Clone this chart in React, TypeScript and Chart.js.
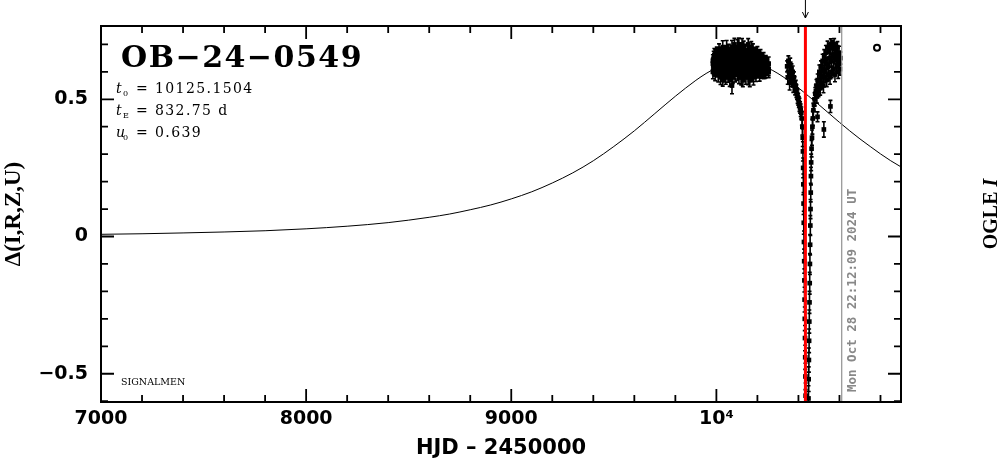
import React, { useEffect, useRef } from 'react';
import { Chart, registerables } from 'chart.js';

Chart.register(...registerables);

// ---------------- data ----------------
const X_MIN = 7000;
const X_MAX = 10900;
const Y_MIN = -0.603;
const Y_MAX = 0.767;

const X_TICKS = [7000, 7200, 7400, 7600, 7800, 8000, 8200, 8400, 8600, 8800, 9000, 9200, 9400, 9600, 9800, 10000, 10200, 10400, 10600, 10800];
const X_TICK_LABELS = ['7000', '', '', '', '', '8000', '', '', '', '', '9000', '', '', '', '', '10⁴', '', '', '', ''];
const Y_TICKS = [-0.6, -0.5, -0.4, -0.3, -0.2, -0.1, 0, 0.1, 0.2, 0.3, 0.4, 0.5, 0.6, 0.7];
const Y_TICK_LABELS = ['', '−0.5', '', '', '', '', '0', '', '', '', '', '0.5', '', ''];

const X_TITLE = 'HJD – 2450000';
const Y_TITLE = 'Δ(I,R,Z,U)';
const EVENT_NAME = 'OB−24−0549';
const PARAM_SYMBOLS = ['t', 't', 'u'];
const PARAM_SUBS = ['0', 'E', '0'];
const PARAM_VALUES = ['10125.1504', '832.75 d', '0.639'];
const CREDIT = 'SIGNALMEN';
const NOW_LABEL = 'Mon Oct 28 22:12:09 2024 UT';
const RIGHT_LABEL = 'OGLE ';
const RIGHT_LABEL_ITALIC = 'I';

const RED_T = 10434;   // marked epoch (red line + arrow)
const NOW_T = 10611;   // current date (gray line)

// model curve
const MODEL_T = [7000, 7200, 7400, 7600, 7800, 8000, 8200, 8400, 8600, 8700, 8800, 8900, 9000, 9100, 9200, 9300, 9400, 9500, 9600, 9700, 9800, 9900, 9950, 10000, 10050, 10125, 10200, 10250, 10300, 10350, 10400, 10450, 10500, 10550, 10600, 10650, 10700, 10750, 10800, 10850, 10900];
const MODEL_V = [0.008, 0.010, 0.013, 0.0165, 0.021, 0.028, 0.0375, 0.0506, 0.070, 0.082, 0.0975, 0.115, 0.137, 0.163, 0.195, 0.232, 0.276, 0.328, 0.385, 0.448, 0.511, 0.569, 0.594, 0.614, 0.627, 0.635, 0.627, 0.614, 0.594, 0.569, 0.5415, 0.511, 0.480, 0.448, 0.416, 0.385, 0.3555, 0.328, 0.301, 0.276, 0.2536];

// main season cluster
const OBS1_T = [
  9983, 9987, 9990, 9994, 9998, 10002, 10005, 10009, 10013, 10017,
  10020, 10024, 10028, 10031, 10035, 10039, 10043, 10046, 10050, 10054,
  10058, 10061, 10065, 10069, 10073, 10076, 10080, 10084, 10088, 10091,
  10095, 10099, 10103, 10106, 10110, 10114, 10118, 10121, 10125, 10129,
  10133, 10136, 10140, 10144, 10148, 10151, 10155, 10159, 10163, 10166,
  10170, 10174, 10178, 10181, 10185, 10189, 10193, 10196, 10200, 10204,
  10208, 10211, 10215, 10219, 10223, 10226, 10230, 10236, 10241, 10248, 10255];
const OBS1_VA = [
  0.63, 0.65, 0.62, 0.66, 0.64, 0.67, 0.63, 0.66, 0.68, 0.64,
  0.67, 0.62, 0.66, 0.69, 0.64, 0.67, 0.63, 0.66, 0.69, 0.65,
  0.63, 0.68, 0.66, 0.62, 0.67, 0.69, 0.64, 0.67, 0.70, 0.65,
  0.67, 0.63, 0.69, 0.66, 0.70, 0.64, 0.68, 0.65, 0.70, 0.67,
  0.69, 0.64, 0.68, 0.66, 0.63, 0.67, 0.70, 0.65, 0.67, 0.63,
  0.69, 0.66, 0.68, 0.64, 0.67, 0.65, 0.66, 0.62, 0.67, 0.64,
  0.66, 0.63, 0.66, 0.64, 0.65, 0.62, 0.65, 0.63, 0.64, 0.61, 0.63];
const OBS1_EA = [
  0.020, 0.025, 0.018, 0.022, 0.030, 0.020, 0.024, 0.018, 0.022, 0.026,
  0.020, 0.028, 0.019, 0.023, 0.025, 0.018, 0.027, 0.021, 0.024, 0.019,
  0.026, 0.020, 0.023, 0.029, 0.018, 0.024, 0.021, 0.026, 0.022, 0.019,
  0.025, 0.020, 0.027, 0.018, 0.023, 0.026, 0.019, 0.024, 0.021, 0.025,
  0.022, 0.028, 0.020, 0.024, 0.019, 0.026, 0.021, 0.023, 0.018, 0.027,
  0.020, 0.024, 0.022, 0.026, 0.019, 0.023, 0.025, 0.020, 0.022, 0.027,
  0.019, 0.024, 0.021, 0.025, 0.018, 0.023, 0.020, 0.026, 0.019, 0.022, 0.024];
const OBS1_VB = [
  0.60, 0.61, 0.64, 0.59, 0.62, 0.60, 0.63, 0.59, 0.61, 0.64,
  0.58, 0.62, 0.60, 0.57, 0.63, 0.59, 0.61, 0.58, 0.62, 0.60,
  0.59, 0.63, 0.57, 0.61, 0.59, 0.55, 0.58, 0.64, 0.60, 0.59,
  0.61, 0.62, 0.59, 0.61, 0.58, 0.63, 0.60, 0.58, 0.62, 0.57,
  0.61, 0.59, 0.63, 0.58, 0.60, 0.62, 0.58, 0.61, 0.57, 0.60,
  0.63, 0.59, 0.61, 0.58, 0.62, 0.60, 0.59, 0.63, 0.60, 0.61,
  0.60, 0.59, 0.62, 0.60, 0.61, 0.60, 0.62, 0.60, 0.61, 0.62, 0.61];
const OBS1_EB = [
  0.025, 0.020, 0.028, 0.022, 0.026, 0.019, 0.024, 0.027, 0.021, 0.023,
  0.026, 0.020, 0.024, 0.022, 0.019, 0.027, 0.021, 0.025, 0.020, 0.024,
  0.028, 0.019, 0.023, 0.026, 0.021, 0.030, 0.022, 0.018, 0.025, 0.027,
  0.020, 0.024, 0.021, 0.026, 0.023, 0.019, 0.025, 0.028, 0.020, 0.024,
  0.022, 0.026, 0.019, 0.025, 0.021, 0.023, 0.027, 0.020, 0.024, 0.022,
  0.019, 0.026, 0.021, 0.028, 0.020, 0.023, 0.025, 0.019, 0.022, 0.026,
  0.021, 0.024, 0.020, 0.023, 0.025, 0.019, 0.022, 0.024, 0.020, 0.021, 0.023];
const OBS1_VC = [
  0.64, 0.62, 0.66, 0.63, 0.61, 0.64, 0.66, 0.62, 0.65, 0.61,
  0.63, 0.66, 0.62, 0.64, 0.67, 0.61, 0.65, 0.63, 0.60, 0.66,
  0.64, 0.61, 0.63, 0.66, 0.62, 0.65, 0.67, 0.61, 0.63, 0.66,
  0.62, 0.65, 0.64, 0.67, 0.61, 0.66, 0.63, 0.67, 0.64, 0.62,
  0.65, 0.67, 0.61, 0.64, 0.66, 0.63, 0.61, 0.66, 0.64, 0.67,
  0.62, 0.64, 0.65, 0.61, 0.64, 0.67, 0.62, 0.65, 0.63, 0.66,
  0.62, 0.65, 0.61, 0.63, 0.62, 0.64, 0.60, 0.62, 0.60, 0.63, 0.60];
const OBS1_EC = [
  0.022, 0.019, 0.025, 0.021, 0.024, 0.020, 0.026, 0.022, 0.019, 0.023,
  0.025, 0.021, 0.024, 0.020, 0.022, 0.026, 0.019, 0.023, 0.025, 0.021,
  0.020, 0.024, 0.022, 0.019, 0.025, 0.021, 0.023, 0.026, 0.020, 0.022,
  0.024, 0.019, 0.022, 0.025, 0.021, 0.023, 0.020, 0.024, 0.022, 0.026,
  0.019, 0.023, 0.025, 0.021, 0.024, 0.020, 0.022, 0.026, 0.019, 0.023,
  0.025, 0.021, 0.020, 0.024, 0.022, 0.019, 0.025, 0.021, 0.023, 0.020,
  0.024, 0.022, 0.026, 0.019, 0.023, 0.021, 0.025, 0.020, 0.022, 0.024, 0.021];

// falling branch into the dip
const DIP_T = [10345, 10348, 10351, 10354, 10357, 10360, 10363, 10366, 10369, 10372, 10375, 10378, 10381, 10384, 10387, 10390, 10393, 10396, 10399, 10402, 10405, 10408, 10411, 10414, 10417, 10419, 10421, 10422, 10423, 10424, 10425, 10426, 10427, 10428, 10429, 10430, 10431, 10432, 10433, 10434, 10435, 10436, 10437];
const DIP_V = [0.62, 0.58, 0.64, 0.60, 0.56, 0.63, 0.59, 0.61, 0.57, 0.60, 0.55, 0.58, 0.56, 0.54, 0.55, 0.53, 0.52, 0.51, 0.50, 0.49, 0.48, 0.47, 0.46, 0.45, 0.43, 0.40, 0.36, 0.31, 0.25, 0.19, 0.12, 0.05, -0.02, -0.09, -0.16, -0.23, -0.30, -0.37, -0.44, -0.51, -0.58, -0.66, -0.75];
const DIP_E = [0.020, 0.025, 0.018, 0.022, 0.026, 0.020, 0.024, 0.019, 0.023, 0.021, 0.025, 0.020, 0.022, 0.024, 0.019, 0.023, 0.021, 0.025, 0.022, 0.020, 0.024, 0.021, 0.023, 0.022, 0.025, 0.030, 0.032, 0.035, 0.036, 0.038, 0.040, 0.042, 0.040, 0.044, 0.042, 0.045, 0.043, 0.046, 0.044, 0.048, 0.046, 0.050, 0.050];

// rising branch out of the dip
const RISE_T = [10447, 10448, 10449, 10450, 10451, 10452, 10453, 10454, 10455, 10456, 10457, 10458, 10459, 10460, 10461, 10462, 10464, 10466, 10468, 10470, 10473, 10476, 10479, 10482, 10485, 10488];
const RISE_V = [-0.74, -0.66, -0.59, -0.52, -0.45, -0.38, -0.31, -0.24, -0.17, -0.10, -0.03, 0.04, 0.10, 0.16, 0.22, 0.27, 0.32, 0.36, 0.40, 0.43, 0.46, 0.48, 0.50, 0.52, 0.53, 0.55];
const RISE_E = [0.050, 0.048, 0.046, 0.045, 0.044, 0.043, 0.042, 0.040, 0.040, 0.038, 0.037, 0.036, 0.035, 0.034, 0.032, 0.030, 0.030, 0.028, 0.027, 0.026, 0.025, 0.024, 0.024, 0.023, 0.022, 0.022];

// late season wedge
const LATE_HI_T = [10494, 10502, 10510, 10518, 10526, 10534, 10542, 10550, 10558, 10566, 10574, 10582, 10590, 10598, 10604];
const LATE_HI_V = [0.57, 0.60, 0.62, 0.64, 0.66, 0.67, 0.69, 0.68, 0.70, 0.69, 0.70, 0.68, 0.69, 0.67, 0.65];
const LATE_HI_E = [0.022, 0.025, 0.020, 0.024, 0.021, 0.026, 0.022, 0.025, 0.020, 0.023, 0.021, 0.024, 0.020, 0.023, 0.022];
const LATE_MID_T = [10496, 10504, 10512, 10520, 10528, 10536, 10544, 10552, 10560, 10568, 10576, 10584, 10592, 10600];
const LATE_MID_V = [0.54, 0.57, 0.58, 0.61, 0.60, 0.63, 0.62, 0.65, 0.64, 0.66, 0.65, 0.66, 0.64, 0.63];
const LATE_MID_E = [0.023, 0.020, 0.025, 0.022, 0.024, 0.021, 0.026, 0.020, 0.023, 0.025, 0.021, 0.024, 0.022, 0.020];
const LATE_LO_T = [10490, 10498, 10506, 10514, 10522, 10530, 10538, 10546, 10554, 10562, 10570, 10578, 10586, 10594, 10602];
const LATE_LO_V = [0.51, 0.53, 0.54, 0.56, 0.55, 0.58, 0.57, 0.59, 0.58, 0.60, 0.61, 0.59, 0.62, 0.60, 0.61];
const LATE_LO_E = [0.024, 0.021, 0.025, 0.022, 0.026, 0.020, 0.024, 0.022, 0.025, 0.021, 0.023, 0.026, 0.020, 0.024, 0.022];

// isolated points below the wedge
const STRAY_T = [10493, 10524, 10556];
const STRAY_V = [0.436, 0.39, 0.474];
const STRAY_E = [0.018, 0.028, 0.022];

// open circle marker
const CIRCLE_T = [10783];
const CIRCLE_V = [0.688];

// ---------------- helpers ----------------
type Obs = { x: number; y: number; e: number };
function zipObs(t: number[], v: number[], e: number[]): Obs[] {
  return t.map((tt, i) => ({ x: tt, y: v[i], e: e[i] }));
}

const OBS: Obs[] = [
  ...zipObs(OBS1_T, OBS1_VA, OBS1_EA),
  ...zipObs(OBS1_T, OBS1_VB, OBS1_EB),
  ...zipObs(OBS1_T, OBS1_VC, OBS1_EC),
  ...zipObs(DIP_T, DIP_V, DIP_E),
  ...zipObs(RISE_T, RISE_V, RISE_E),
  ...zipObs(LATE_HI_T, LATE_HI_V, LATE_HI_E),
  ...zipObs(LATE_MID_T, LATE_MID_V, LATE_MID_E),
  ...zipObs(LATE_LO_T, LATE_LO_V, LATE_LO_E),
  ...zipObs(STRAY_T, STRAY_V, STRAY_E),
];

const overlayPlugin = {
  id: 'overlay',
  afterDatasetsDraw(chart: any) {
    const { ctx, chartArea: a, scales } = chart;
    const xs = scales.x;
    const ys = scales.y;
    ctx.save();
    ctx.beginPath();
    ctx.rect(a.left, a.top, a.right - a.left, a.bottom - a.top);
    ctx.clip();
    // error bars
    ctx.strokeStyle = '#000';
    ctx.lineWidth = 1.6;
    ctx.beginPath();
    for (const p of OBS) {
      const px = xs.getPixelForValue(p.x);
      const y1 = ys.getPixelForValue(p.y - p.e);
      const y2 = ys.getPixelForValue(p.y + p.e);
      ctx.moveTo(px, y1);
      ctx.lineTo(px, y2);
      ctx.moveTo(px - 2, y1);
      ctx.lineTo(px + 2, y1);
      ctx.moveTo(px - 2, y2);
      ctx.lineTo(px + 2, y2);
    }
    ctx.stroke();
    // gray "now" line
    const gx = xs.getPixelForValue(NOW_T);
    ctx.strokeStyle = '#909090';
    ctx.lineWidth = 1.2;
    ctx.beginPath();
    ctx.moveTo(gx, a.top);
    ctx.lineTo(gx, a.bottom);
    ctx.stroke();
    // red line
    const rx = xs.getPixelForValue(RED_T);
    ctx.strokeStyle = '#ff0000';
    ctx.lineWidth = 3;
    ctx.beginPath();
    ctx.moveTo(rx, a.top);
    ctx.lineTo(rx, a.bottom);
    ctx.stroke();
    ctx.restore();
  },
  afterDraw(chart: any) {
    const { ctx, chartArea: a, scales } = chart;
    const xs = scales.x;
    const ys = scales.y;
    ctx.save();
    // frame
    ctx.strokeStyle = '#000';
    ctx.lineWidth = 2;
    ctx.strokeRect(a.left, a.top, a.right - a.left, a.bottom - a.top);
    // inward ticks
    ctx.lineWidth = 1.8;
    ctx.beginPath();
    X_TICKS.forEach((v, i) => {
      const px = xs.getPixelForValue(v);
      const len = X_TICK_LABELS[i] ? 13 : 7;
      ctx.moveTo(px, a.bottom);
      ctx.lineTo(px, a.bottom - len);
      ctx.moveTo(px, a.top);
      ctx.lineTo(px, a.top + len);
    });
    Y_TICKS.forEach((v, i) => {
      const py = ys.getPixelForValue(v);
      const len = Y_TICK_LABELS[i] ? 13 : 7;
      ctx.moveTo(a.left, py);
      ctx.lineTo(a.left + len, py);
      ctx.moveTo(a.right, py);
      ctx.lineTo(a.right - len, py);
    });
    ctx.stroke();

    // arrow above the red line
    const rx = xs.getPixelForValue(RED_T);
    ctx.lineWidth = 1;
    ctx.beginPath();
    ctx.moveTo(rx, 0);
    ctx.lineTo(rx, 18);
    ctx.moveTo(rx - 3, 12);
    ctx.lineTo(rx, 18);
    ctx.lineTo(rx + 3, 12);
    ctx.stroke();

    // event name
    ctx.fillStyle = '#000';
    ctx.textAlign = 'left';
    ctx.textBaseline = 'alphabetic';
    ctx.font = 'bold 30px "DejaVu Serif"';
    ctx.letterSpacing = '1.5px';
    ctx.fillText(EVENT_NAME, 121, 67);

    // parameters
    const baselines = [93, 115, 137];
    PARAM_SYMBOLS.forEach((sym, i) => {
      const by = baselines[i];
      ctx.letterSpacing = '0px';
      ctx.font = 'italic 14px "DejaVu Serif"';
      ctx.fillText(sym, 116, by);
      ctx.font = '8px "DejaVu Serif"';
      ctx.fillText(PARAM_SUBS[i], 123, by + 3);
      ctx.font = '14px "DejaVu Serif"';
      ctx.fillText('=', 136, by);
      ctx.letterSpacing = '1.4px';
      ctx.fillText(PARAM_VALUES[i], 155, by);
    });
    ctx.letterSpacing = '0px';

    // credit
    ctx.font = '9.5px "DejaVu Serif"';
    ctx.fillText(CREDIT, 121, 385);

    // date label along the gray line
    const gx = xs.getPixelForValue(NOW_T);
    ctx.save();
    ctx.translate(gx + 14, 392);
    ctx.rotate(-Math.PI / 2);
    ctx.fillStyle = '#888888';
    ctx.font = 'bold 12.5px "DejaVu Sans Mono"';
    ctx.fillText(NOW_LABEL, 0, 0);
    ctx.restore();

    // right-hand label
    ctx.save();
    ctx.translate(997, (a.top + a.bottom) / 2);
    ctx.rotate(-Math.PI / 2);
    ctx.font = 'bold 20px "Liberation Serif"';
    const w1 = ctx.measureText(RIGHT_LABEL).width;
    ctx.font = 'italic bold 20px "Liberation Serif"';
    const w2 = ctx.measureText(RIGHT_LABEL_ITALIC).width;
    const sx = -(w1 + w2) / 2;
    ctx.font = 'bold 20px "Liberation Serif"';
    ctx.fillText(RIGHT_LABEL, sx, 0);
    ctx.font = 'italic bold 20px "Liberation Serif"';
    ctx.fillText(RIGHT_LABEL_ITALIC, sx + w1, 0);
    ctx.restore();

    ctx.restore();
  },
};

export default function App() {
  const ref = useRef<HTMLCanvasElement | null>(null);

  useEffect(() => {
    const canvas = ref.current;
    if (!canvas) return;
    const tickFont = { family: '"DejaVu Sans"', size: 19, weight: 'bold' as const };
    const chart = new Chart(canvas, {
      type: 'scatter',
      data: {
        datasets: [
          {
            type: 'line',
            label: 'model',
            data: MODEL_T.map((t, i) => ({ x: t, y: MODEL_V[i] })),
            borderColor: '#000',
            borderWidth: 1,
            pointRadius: 0,
            cubicInterpolationMode: 'monotone',
            fill: false,
            clip: 0,
          } as any,
          {
            label: 'OGLE I',
            data: OBS.map((p) => ({ x: p.x, y: p.y })),
            pointStyle: 'rect',
            pointRadius: 3.3,
            backgroundColor: '#000',
            borderColor: '#000',
            borderWidth: 0,
            clip: 0,
          } as any,
          {
            label: 'marker',
            data: CIRCLE_T.map((t, i) => ({ x: t, y: CIRCLE_V[i] })),
            pointStyle: 'circle',
            pointRadius: 3,
            backgroundColor: 'rgba(0,0,0,0)',
            borderColor: '#000',
            borderWidth: 2,
            clip: 0,
          } as any,
        ],
      },
      options: {
        responsive: false,
        animation: false,
        devicePixelRatio: 1,
        events: [],
        layout: { padding: { left: 0, right: 103, top: 26, bottom: 0 } },
        plugins: { legend: { display: false }, tooltip: { enabled: false } },
        scales: {
          x: {
            type: 'linear',
            min: X_MIN,
            max: X_MAX,
            afterFit: (s: any) => { s.height = 57; },
            afterBuildTicks: (s: any) => { s.ticks = X_TICKS.map((v) => ({ value: v })); },
            ticks: {
              autoSkip: false,
              maxRotation: 0,
              minRotation: 0,
              padding: 6,
              color: '#000',
              font: tickFont,
              callback: (_v: any, i: number) => X_TICK_LABELS[i],
            },
            grid: { display: false, drawTicks: false },
            border: { display: false },
            title: {
              display: true,
              text: X_TITLE,
              color: '#000',
              font: { family: '"DejaVu Sans"', size: 21, weight: 'bold', lineHeight: 1 },
              padding: { top: 0, bottom: 0 },
            },
          },
          y: {
            type: 'linear',
            min: Y_MIN,
            max: Y_MAX,
            afterFit: (s: any) => { s.width = 101; },
            afterBuildTicks: (s: any) => { s.ticks = Y_TICKS.map((v) => ({ value: v })); },
            ticks: {
              autoSkip: false,
              padding: 13,
              color: '#000',
              font: tickFont,
              callback: (_v: any, i: number) => Y_TICK_LABELS[i],
            },
            grid: { display: false, drawTicks: false },
            border: { display: false },
            title: {
              display: true,
              text: Y_TITLE,
              color: '#000',
              font: { family: '"Liberation Serif"', size: 23, weight: 'bold', lineHeight: 1.2 },
              padding: { top: 0, bottom: 0 },
            },
          },
        },
      } as any,
      plugins: [overlayPlugin as any],
    });
    return () => chart.destroy();
  }, []);

  return (
    <canvas
      ref={ref}
      width={1004}
      height={459}
      style={{ position: 'absolute', left: 0, top: 0, display: 'block', background: '#fff' }}
    />
  );
}
